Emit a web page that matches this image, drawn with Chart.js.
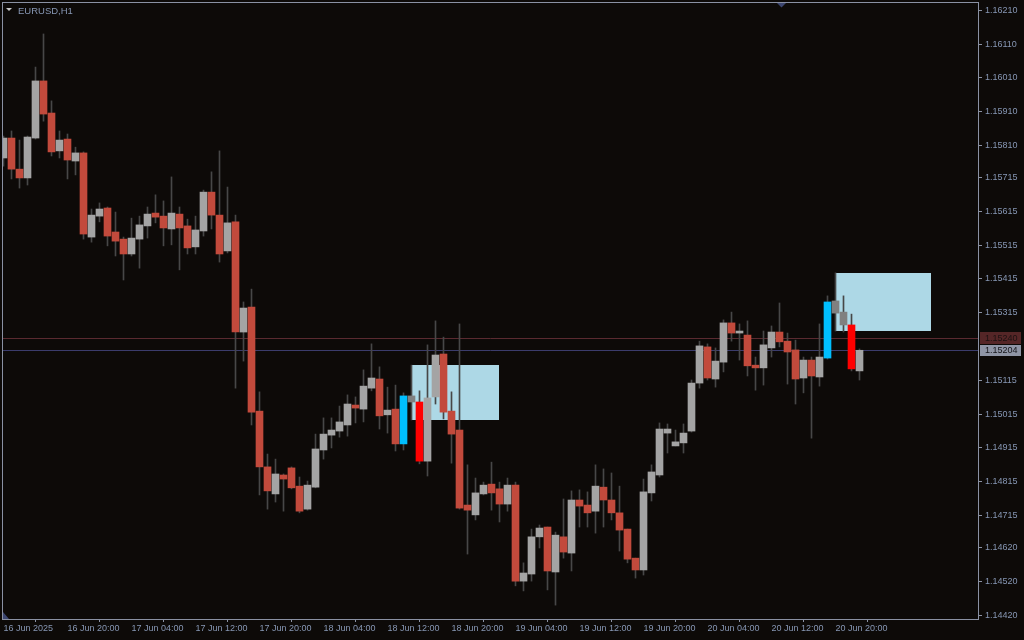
<!DOCTYPE html>
<html>
<head>
<meta charset="utf-8">
<script src="https://cdn.jsdelivr.net/npm/chart.js@4/dist/chart.umd.min.js"></script>
<style>
html, body { margin: 0; padding: 0; background: #0d0a08; }
#wrap { width: 1024px; height: 640px; }
</style>
</head>
<body>
<div id="wrap"><canvas id="myChart"></canvas></div>
<script>
var symbol = 'EURUSD,H1'

// hourly candles, 16 Jun 12:00 .. 20 Jun 23:00
var opens = [1.15773, 1.15832, 1.15740, 1.15714, 1.15832, 1.16001, 1.15906, 1.15794, 1.15829, 1.15764,
	1.15788, 1.15539, 1.15601, 1.15625, 1.15554, 1.15533, 1.15489, 1.15533, 1.15572, 1.15610,
	1.15601, 1.15563, 1.15607, 1.15572, 1.15510, 1.15557, 1.15672, 1.15604, 1.15498, 1.15584,
	1.15258, 1.15332, 1.15024, 1.14859, 1.14779, 1.14835, 1.14856, 1.14802, 1.14734, 1.14799,
	1.14909, 1.14953, 1.14965, 1.14983, 1.15042, 1.15030, 1.15092, 1.15119, 1.15013, 1.15030,
	1.14927, 1.15069, 1.15051, 1.14876, 1.15066, 1.15193, 1.15024, 1.14968, 1.14746, 1.14717,
	1.14779, 1.14808, 1.14794, 1.14749, 1.14805, 1.14521, 1.14542, 1.14652, 1.14681, 1.14548,
	1.14652, 1.14604, 1.14761, 1.14746, 1.14728, 1.14799, 1.14761, 1.14723, 1.14675, 1.14589,
	1.14554, 1.14782, 1.14835, 1.14959, 1.14921, 1.14930, 1.14965, 1.15107, 1.15214, 1.15119,
	1.15169, 1.15285, 1.15255, 1.15249, 1.15160, 1.15152, 1.15211, 1.15258, 1.15231, 1.15205,
	1.15122, 1.15175, 1.15125, 1.15181, 1.15350, 1.15317, 1.15279, 1.15143]
var highs = [1.15838, 1.15853, 1.15826, 1.15838, 1.16042, 1.16140, 1.15942, 1.15853, 1.15844, 1.15805,
	1.15791, 1.15622, 1.15640, 1.15628, 1.15613, 1.15539, 1.15595, 1.15601, 1.15628, 1.15664,
	1.15646, 1.15717, 1.15628, 1.15592, 1.15601, 1.15678, 1.15732, 1.15794, 1.15687, 1.15604,
	1.15347, 1.15385, 1.15081, 1.14897, 1.14882, 1.14838, 1.14859, 1.14829, 1.14817, 1.14956,
	1.15004, 1.15004, 1.15039, 1.15072, 1.15066, 1.15146, 1.15223, 1.15155, 1.15095, 1.15101,
	1.15078, 1.15160, 1.15084, 1.15220, 1.15291, 1.15243, 1.15081, 1.15282, 1.14865, 1.14826,
	1.14814, 1.14873, 1.14814, 1.14826, 1.14814, 1.14575, 1.14675, 1.14687, 1.14681, 1.14666,
	1.14764, 1.14788, 1.14791, 1.14785, 1.14865, 1.14853, 1.14841, 1.14802, 1.14675, 1.14589,
	1.14823, 1.14865, 1.14989, 1.14986, 1.14968, 1.14986, 1.15116, 1.15231, 1.15223, 1.15211,
	1.15294, 1.15317, 1.15282, 1.15291, 1.15184, 1.15261, 1.15276, 1.15344, 1.15255, 1.15234,
	1.15184, 1.15184, 1.15282, 1.15365, 1.15433, 1.15365, 1.15311, 1.15208]
var lows = [1.15749, 1.15711, 1.15684, 1.15693, 1.15829, 1.15882, 1.15779, 1.15773, 1.15711, 1.15723,
	1.15533, 1.15524, 1.15584, 1.15513, 1.15483, 1.15412, 1.15483, 1.15447, 1.15536, 1.15581,
	1.15513, 1.15516, 1.15442, 1.15489, 1.15489, 1.15542, 1.15563, 1.15465, 1.15492, 1.15092,
	1.15172, 1.14983, 1.14776, 1.14734, 1.14755, 1.14728, 1.14794, 1.14723, 1.14731, 1.14797,
	1.14882, 1.14915, 1.14947, 1.14950, 1.14989, 1.14992, 1.15084, 1.14971, 1.14959, 1.14906,
	1.14909, 1.14998, 1.14868, 1.14832, 1.15045, 1.15001, 1.14870, 1.14734, 1.14601, 1.14702,
	1.14776, 1.14731, 1.14696, 1.14728, 1.14507, 1.14492, 1.14521, 1.14619, 1.14495, 1.14450,
	1.14589, 1.14551, 1.14681, 1.14681, 1.14663, 1.14681, 1.14702, 1.14610, 1.14575, 1.14530,
	1.14539, 1.14758, 1.14829, 1.14900, 1.14921, 1.14900, 1.14962, 1.15092, 1.15116, 1.15095,
	1.15140, 1.15231, 1.15175, 1.15128, 1.15086, 1.15101, 1.15184, 1.15214, 1.15104, 1.15045,
	1.15078, 1.14944, 1.15098, 1.15178, 1.15261, 1.15258, 1.15143, 1.15116]
var closes = [1.15832, 1.15740, 1.15714, 1.15835, 1.16001, 1.15903, 1.15791, 1.15826, 1.15767, 1.15788,
	1.15548, 1.15604, 1.15622, 1.15542, 1.15527, 1.15489, 1.15536, 1.15575, 1.15607, 1.15598,
	1.15566, 1.15610, 1.15566, 1.15507, 1.15560, 1.15672, 1.15604, 1.15489, 1.15581, 1.15258,
	1.15329, 1.15021, 1.14859, 1.14788, 1.14838, 1.14823, 1.14797, 1.14728, 1.14805, 1.14912,
	1.14956, 1.14968, 1.14992, 1.15045, 1.15033, 1.15098, 1.15122, 1.15010, 1.15027, 1.14927,
	1.15069, 1.15051, 1.14876, 1.15063, 1.15190, 1.15021, 1.14956, 1.14737, 1.14731, 1.14782,
	1.14805, 1.14782, 1.14749, 1.14805, 1.14521, 1.14545, 1.14652, 1.14678, 1.14551, 1.14657,
	1.14607, 1.14761, 1.14743, 1.14723, 1.14802, 1.14761, 1.14723, 1.14672, 1.14586, 1.14554,
	1.14785, 1.14844, 1.14971, 1.14971, 1.14933, 1.14959, 1.15107, 1.15217, 1.15122, 1.15172,
	1.15285, 1.15255, 1.15261, 1.15158, 1.15152, 1.15220, 1.15258, 1.15229, 1.15199, 1.15119,
	1.15175, 1.15128, 1.15184, 1.15347, 1.15314, 1.15279, 1.15149, 1.15204]

// signal bars found by the indicator
var bullSignals = [50, 103]
var bearSignals = [52, 106]
var insideBars = [51, 104, 105]

// order block zones (bar from, bar to, top, bottom)
var zoneFrom = [51, 104]
var zoneTo = [62, 116]
var zoneTop = [1.15160, 1.15433]
var zoneBottom = [1.14998, 1.15261]

var askPrice = 1.15240
var bidPrice = 1.15204

var yTicks = [1.16210, 1.16110, 1.16010, 1.15910, 1.15810, 1.15715, 1.15615, 1.15515, 1.15415, 1.15315,
	1.15115, 1.15015, 1.14915, 1.14815, 1.14715, 1.14620, 1.14520, 1.14420]
var xTickBars = [0, 8, 16, 24, 32, 40, 48, 56, 64, 72, 80, 88, 96, 104]
var xTickLabels = ['16 Jun 2025', '16 Jun 20:00', '17 Jun 04:00', '17 Jun 12:00', '17 Jun 20:00', '18 Jun 04:00',
	'18 Jun 12:00', '18 Jun 20:00', '19 Jun 04:00', '19 Jun 12:00', '19 Jun 20:00', '20 Jun 04:00',
	'20 Jun 12:00', '20 Jun 20:00']

var bgColor = '#0d0a08'
var frameColor = '#8a91a3'
var textColor = '#8797b4'
var upColor = '#a4a4a4'
var downColor = '#c24a3c'
var wickColor = '#474747'
var axisFont = { family: 'Liberation Sans', size: 9 }

var bodyColors = opens.map(function (o, i) {
	if (bullSignals.indexOf(i) >= 0) return '#00bfff'
	if (bearSignals.indexOf(i) >= 0) return '#ff0000'
	if (insideBars.indexOf(i) >= 0) return '#808080'
	return closes[i] > opens[i] ? upColor : downColor
})

function noPadding(s) {
	s.paddingTop = 0
	s.paddingBottom = 0
	s.paddingLeft = 0
	s.paddingRight = 0
}

var mtPlugin = {
	id: 'mt',
	beforeDraw: function (chart) {
		var c = chart.ctx
		c.save()
		c.fillStyle = bgColor
		c.fillRect(0, 0, chart.width, chart.height)
		c.restore()
	},
	beforeDatasetsDraw: function (chart) {
		var c = chart.ctx, a = chart.chartArea
		var xs = chart.scales.x, ys = chart.scales.y
		c.save()
		c.beginPath()
		c.rect(a.left, a.top, a.right - a.left, a.bottom - a.top)
		c.clip()
		c.fillStyle = '#add8e6'
		for (var k = 0; k < zoneFrom.length; k++) {
			var x1 = Math.floor(xs.getPixelForValue(zoneFrom[k]))
			var x2 = Math.floor(xs.getPixelForValue(zoneTo[k]))
			var y1 = Math.round(ys.getPixelForValue(zoneTop[k]))
			var y2 = Math.round(ys.getPixelForValue(zoneBottom[k]))
			c.fillRect(x1, y1, x2 - x1, y2 - y1)
		}
		c.lineWidth = 1
		var ya = Math.round(ys.getPixelForValue(askPrice)) + 0.5
		c.strokeStyle = '#5a2a30'
		c.beginPath(); c.moveTo(a.left, ya); c.lineTo(a.right, ya); c.stroke()
		var yb = Math.round(ys.getPixelForValue(bidPrice)) + 0.5
		c.strokeStyle = '#3b3c6c'
		c.beginPath(); c.moveTo(a.left, yb); c.lineTo(a.right, yb); c.stroke()
		c.restore()
	},
	afterDraw: function (chart) {
		var c = chart.ctx, a = chart.chartArea
		var ys = chart.scales.y
		c.save()
		c.strokeStyle = frameColor
		c.lineWidth = 1
		c.strokeRect(a.left - 0.5, a.top - 0.5, a.right - a.left + 1, a.bottom - a.top + 1)

		// price labels on the axis
		c.font = '9px "Liberation Sans"'
		c.textBaseline = 'middle'
		var ya = Math.round(ys.getPixelForValue(askPrice))
		c.fillStyle = '#552627'
		c.fillRect(a.right + 2, ya - 6, 41, 12)
		c.fillStyle = '#1c1212'
		c.fillText(askPrice.toFixed(5), a.right + 7, ya + 1)
		var yb = Math.round(ys.getPixelForValue(bidPrice))
		c.fillStyle = '#8f95a5'
		c.fillRect(a.right + 2, yb - 5, 41, 11)
		c.fillStyle = '#15151a'
		c.fillText(bidPrice.toFixed(5), a.right + 7, yb + 1)

		// title
		c.fillStyle = '#c8c8c8'
		c.beginPath(); c.moveTo(6, 8); c.lineTo(12, 8); c.lineTo(9, 11); c.closePath(); c.fill()
		c.font = '9.5px "Liberation Sans"'
		c.fillStyle = textColor
		c.textBaseline = 'alphabetic'
		c.fillText(symbol, 18, 14)

		// shift markers
		c.fillStyle = '#3c4670'
		c.beginPath(); c.moveTo(777, 3); c.lineTo(786, 3); c.lineTo(781.5, 7.5); c.closePath(); c.fill()
		c.beginPath(); c.moveTo(3, 612); c.lineTo(3, 619); c.lineTo(9, 619); c.closePath(); c.fill()
		c.restore()
	}
}

var ctx = document.getElementById('myChart')
var bars = opens.map(function (o, i) { return i })

var candleChart = new Chart(ctx, {
	type: 'bar',
	data: {
		datasets: [{
			label: 'body',
			data: bars.map(function (i) { return { x: i, y: [opens[i], closes[i]] } }),
			backgroundColor: bodyColors,
			borderWidth: 0,
			barThickness: 7,
			grouped: false,
			order: 1,
		}, {
			label: 'wick',
			data: bars.map(function (i) { return { x: i, y: [lows[i], highs[i]] } }),
			backgroundColor: wickColor,
			borderWidth: 0,
			barThickness: 1,
			grouped: false,
			order: 2,
		}]
	},
	options: {
		responsive: true,
		maintainAspectRatio: false,
		animation: false,
		layout: { padding: { left: 3, top: 3, right: 0, bottom: 0 } },
		plugins: { legend: { display: false }, tooltip: { enabled: false } },
		scales: {
			x: {
				type: 'linear',
				min: -0.0625,
				max: 121.8125,
				offset: false,
				grid: { drawOnChartArea: false, drawTicks: true, tickLength: 3, color: frameColor },
				border: { display: false },
				ticks: {
					autoSkip: false,
					maxRotation: 0,
					align: 'start',
					padding: 1,
					color: textColor,
					font: axisFont,
					callback: function (v, idx) { return xTickLabels[idx] }
				},
				afterBuildTicks: function (s) { s.ticks = xTickBars.map(function (v) { return { value: v } }) },
				afterFit: function (s) { s.height = 21; noPadding(s) }
			},
			y: {
				type: 'linear',
				position: 'right',
				min: 1.144089,
				max: 1.162316,
				grid: { drawOnChartArea: false, drawTicks: true, tickLength: 4, color: frameColor },
				border: { display: false },
				ticks: {
					padding: 3,
					color: textColor,
					font: axisFont,
					callback: function (v) { return v.toFixed(5) }
				},
				afterBuildTicks: function (s) { s.ticks = yTicks.map(function (v) { return { value: v } }) },
				afterFit: function (s) { s.width = 46; noPadding(s) }
			}
		}
	},
	plugins: [mtPlugin]
})
</script>
</body>
</html>
